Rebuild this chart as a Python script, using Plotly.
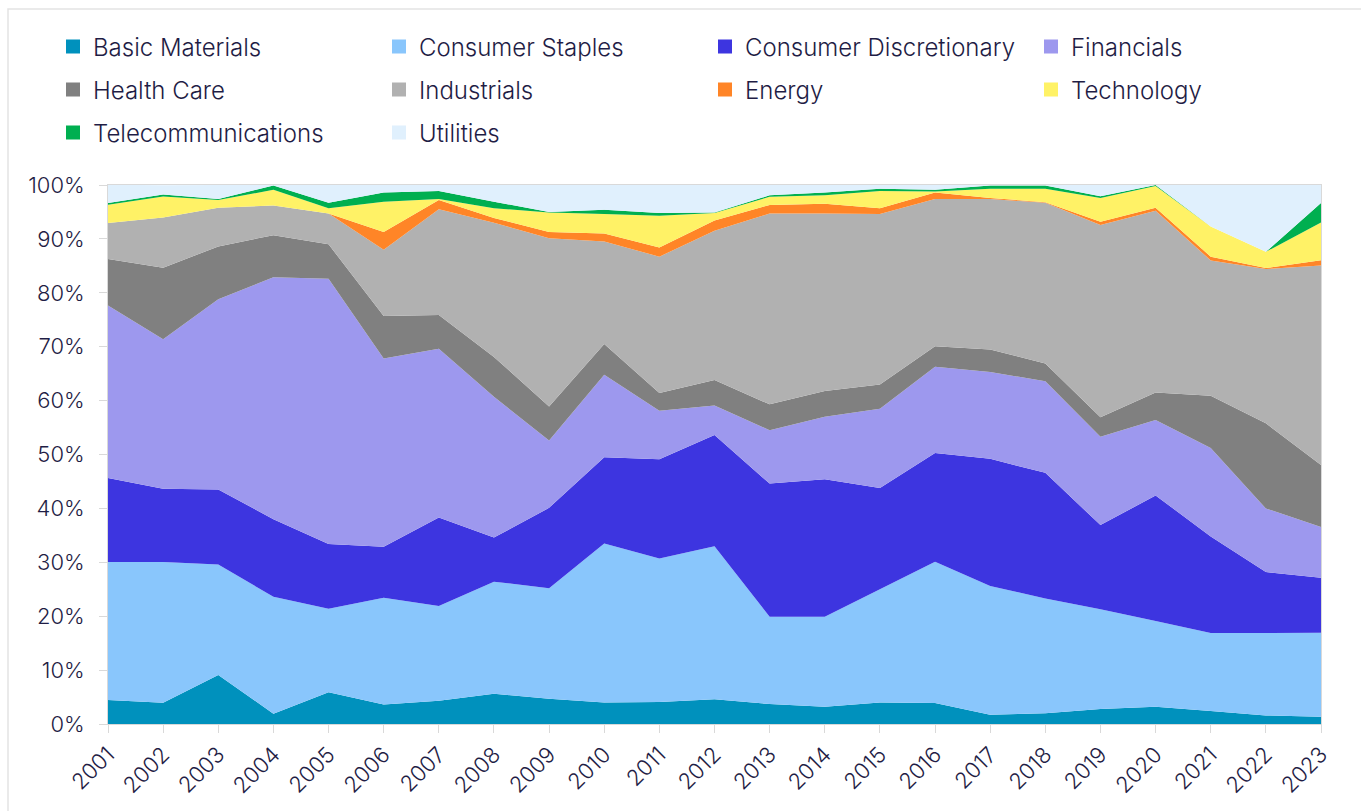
import plotly.graph_objects as go

years = list(range(2001, 2024))
year_labels = [str(y) for y in years]

basic_materials = [4.45, 3.96, 9.1, 1.9, 5.9, 3.6, 4.3, 5.6, 4.7, 4.0, 4.1, 4.6, 3.7, 3.2, 4.0, 3.9, 1.7, 2.0, 2.8, 3.2, 2.4, 1.6, 1.35]
consumer_staples = [25.6, 26.1, 20.5, 21.7, 15.5, 19.8, 17.6, 20.8, 20.5, 29.5, 26.6, 28.4, 16.2, 16.7, 21.0, 26.2, 23.9, 21.3, 18.5, 15.9, 14.5, 15.3, 15.6]
consumer_discretionary = [15.6, 13.6, 13.9, 14.4, 12.0, 9.5, 16.4, 8.2, 14.9, 16.0, 18.4, 20.6, 24.7, 25.5, 18.8, 20.2, 23.6, 23.3, 15.6, 23.3, 17.9, 11.3, 10.2]
financials = [32.0, 27.7, 35.3, 44.9, 49.2, 34.9, 31.3, 26.1, 12.5, 15.3, 9.0, 5.5, 9.9, 11.6, 14.7, 16.0, 16.1, 17.0, 16.4, 14.0, 16.4, 11.8, 9.4]
health_care = [8.6, 13.3, 9.8, 7.8, 6.4, 7.9, 6.3, 7.4, 6.3, 5.7, 3.3, 4.7, 4.8, 4.8, 4.5, 3.8, 4.2, 3.3, 3.6, 5.1, 9.7, 15.8, 11.5]
industrials = [6.7, 9.3, 7.2, 5.5, 5.7, 12.3, 19.6, 24.9, 31.2, 19.0, 25.3, 27.7, 35.4, 32.9, 31.6, 27.3, 27.9, 29.8, 35.7, 33.7, 25.1, 28.6, 37.0]
energy = [0, 0, 0, 0, 0, 3.3, 1.7, 0.9, 1.2, 1.5, 1.7, 1.9, 1.6, 1.8, 1.1, 1.2, 0.2, 0.1, 0.6, 0.6, 0.7, 0.2, 1.0]
technology = [3.4, 3.9, 1.4, 2.9, 1.0, 5.6, 0.2, 1.8, 3.6, 3.6, 5.9, 1.4, 1.5, 1.6, 3.2, 0.2, 1.7, 2.5, 4.4, 4.0, 5.6, 3.0, 7.0]
telecommunications = [0.3, 0.4, 0.2, 0.8, 1.0, 1.7, 1.5, 1.2, 0.1, 0.8, 0.5, 0.1, 0.3, 0.5, 0.4, 0.3, 0.6, 0.6, 0.3, 0.2, 0.0, 0.0, 3.6]
utilities = [3.4, 1.7, 2.6, 0.1, 3.3, 1.4, 1.1, 3.1, 5.0, 4.6, 5.2, 5.1, 1.9, 1.4, 0.7, 0.9, 0.1, 0.1, 2.1, 0.0, 7.7, 12.4, 3.4]

series = [
    ("Basic Materials", basic_materials, "#0091BD", "legend"),
    ("Consumer Staples", consumer_staples, "#89C6FC", "legend"),
    ("Consumer Discretionary", consumer_discretionary, "#3D35E0", "legend"),
    ("Financials", financials, "#9D98EE", "legend"),
    ("Health Care", health_care, "#808080", "legend2"),
    ("Industrials", industrials, "#B1B1B1", "legend2"),
    ("Energy", energy, "#FF8527", "legend2"),
    ("Technology", technology, "#FFF266", "legend2"),
    ("Telecommunications", telecommunications, "#00AF50", "legend3"),
    ("Utilities", utilities, "#E0F0FD", "legend3"),
]

TEXT = "#1F1D45"
FONT = "Inter, Roboto, sans-serif"

fig = go.Figure()
for name, vals, color, lg in series:
    fig.add_trace(go.Scatter(
        x=years, y=vals, name=name, stackgroup="one", mode="none",
        fillcolor=color, line=dict(width=0), showlegend=False,
    ))
# legend entries (square swatches)
for name, vals, color, lg in series:
    fig.add_trace(go.Scatter(
        x=[None], y=[None], name=name, mode="markers",
        marker=dict(symbol="square", size=14, color=color),
        legend=lg, showlegend=True,
    ))

W, H = 1361, 811
L, R, T, B = 108, 40, 185, 87
pw, ph = W - L - R, H - T - B

def py(y):
    return (H - B - y) / ph

def px(x):
    return (x - L) / pw

leg_common = dict(
    orientation="h", entrywidth=281, entrywidthmode="pixels",
    font=dict(family=FONT, size=24, color=TEXT, weight=300),
    xanchor="left", yanchor="middle", x=px(53), bgcolor="rgba(0,0,0,0)",
    traceorder="normal", itemwidth=30,
)

tick_font = dict(family=FONT, size=22, color=TEXT, weight=300)

fig.update_layout(
    width=W, height=H,
    margin=dict(l=L, r=R, t=T, b=B, autoexpand=False),
    paper_bgcolor="white", plot_bgcolor="white",
    font=dict(family=FONT, size=22, color=TEXT),
    legend=dict(leg_common, y=py(47)),
    legend2=dict(leg_common, y=py(90)),
    legend3=dict(leg_common, y=py(133)),
    xaxis=dict(
        range=[years[0], years[-1]], tickmode="array", tickvals=years, ticktext=year_labels,
        tickangle=-45, showgrid=False, zeroline=False, automargin=False,
        showline=True, linecolor="#D9D9D9", linewidth=1, mirror=True,
        ticks="outside", ticklen=8, tickcolor="#D9D9D9",
        tickfont=tick_font,
    ),
    yaxis=dict(
        range=[0, 100], tickmode="array", tickvals=list(range(0, 101, 10)),
        ticktext=[f"{v}%" for v in range(0, 101, 10)],
        showgrid=False, zeroline=False, automargin=False,
        showline=True, linecolor="#D9D9D9", linewidth=1, mirror=True,
        ticks="outside", ticklen=8, tickcolor="#D9D9D9",
        ticklabelstandoff=10,
        tickfont=tick_font,
    ),
    shapes=[dict(
        type="rect", xref="paper", yref="paper", layer="below",
        x0=px(8), x1=px(1380), y0=py(830), y1=py(9),
        line=dict(color="#E3E3E3", width=1.5), fillcolor="rgba(0,0,0,0)",
    )],
)

fig.write_html("out.html", config={"displayModeBar": False},
               post_script="document.body.style.margin='0';")
